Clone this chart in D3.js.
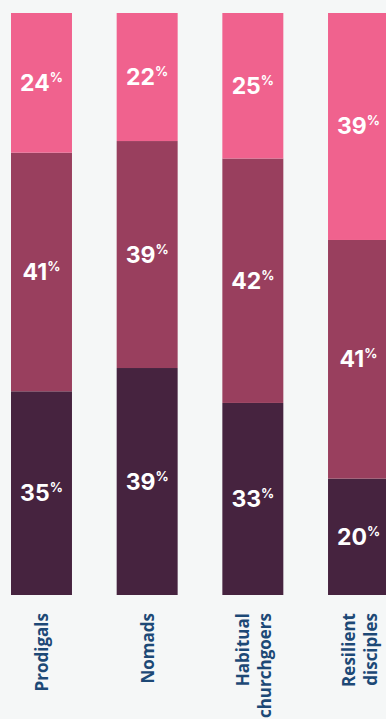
<!DOCTYPE html>
<html lang="en">
<head>
<meta charset="UTF-8" />
<title>Stacked shares</title>
<style>
  html, body { margin: 0; padding: 0; background: #f5f7f7; }
  svg { display: block; }
</style>
</head>
<body>
<div id="chart"></div>
<script src="https://cdn.jsdelivr.net/npm/d3@7"></script>
<script>
// categories and their label lines
const categories = ["Prodigals", "Nomads", "Habitual churchgoers", "Resilient disciples"];
const labelLines = [["Prodigals"], ["Nomads"], ["Habitual", "churchgoers"], ["Resilient", "disciples"]];
// series values (percent), bottom to top
const bottomShare = [35, 39, 33, 20];
const middleShare = [41, 39, 42, 41];
const topShare    = [24, 22, 25, 39];

const keys = ["bottom", "middle", "top"];
const colors = { bottom: "#46233f", middle: "#993f5e", top: "#f0628e" };

const W = 386, H = 719;
const rows = categories.map((c, i) => ({
  cat: c, bottom: bottomShare[i], middle: middleShare[i], top: topShare[i]
}));

const svg = d3.select("#chart").append("svg")
  .attr("width", W).attr("height", H);

const x = d3.scaleBand()
  .domain(categories)
  .range([11, 389])
  .paddingInner(0.423)
  .paddingOuter(0);

const y = d3.scaleLinear().domain([0, 100]).range([595, 13]);

const series = d3.stack().keys(keys)(rows);

const layer = svg.selectAll("g.layer")
  .data(series)
  .join("g")
  .attr("class", "layer")
  .attr("fill", d => colors[d.key]);

layer.selectAll("rect")
  .data(d => d)
  .join("rect")
  .attr("x", d => x(d.data.cat))
  .attr("width", x.bandwidth())
  .attr("y", d => y(d[1]))
  .attr("height", d => y(d[0]) - y(d[1]));

// value labels
const lbl = layer.selectAll("text")
  .data(d => d)
  .join("text")
  .attr("x", d => x(d.data.cat) + x.bandwidth() / 2)
  .attr("y", d => (y(d[0]) + y(d[1])) / 2 + 8)
  .attr("text-anchor", "middle")
  .attr("fill", "#ffffff")
  .attr("font-family", "Inter, 'Open Sans', sans-serif")
  .attr("font-weight", 700)
  .attr("font-size", 23);

lbl.append("tspan").text(d => d[1] - d[0]);
lbl.append("tspan")
  .attr("font-size", 13)
  .attr("dy", -9)
  .text("%");

// category labels, rotated
const cat = svg.append("g").selectAll("text")
  .data(categories)
  .join("text")
  .attr("transform", d => `translate(${x(d) + x.bandwidth() / 2 + 1},613) rotate(-90)`)
  .attr("text-anchor", "end")
  .attr("fill", "#1d4976")
  .attr("font-family", "'Open Sans', sans-serif")
  .attr("font-weight", 700)
  .attr("font-size", 17);

cat.selectAll("tspan")
  .data((d, i) => labelLines[i].map((t, j, a) => ({ t, off: (j - (a.length - 1) / 2) * 22 })))
  .join("tspan")
  .attr("x", 0)
  .attr("y", d => d.off + 6)
  .text(d => d.t);
</script>
</body>
</html>
